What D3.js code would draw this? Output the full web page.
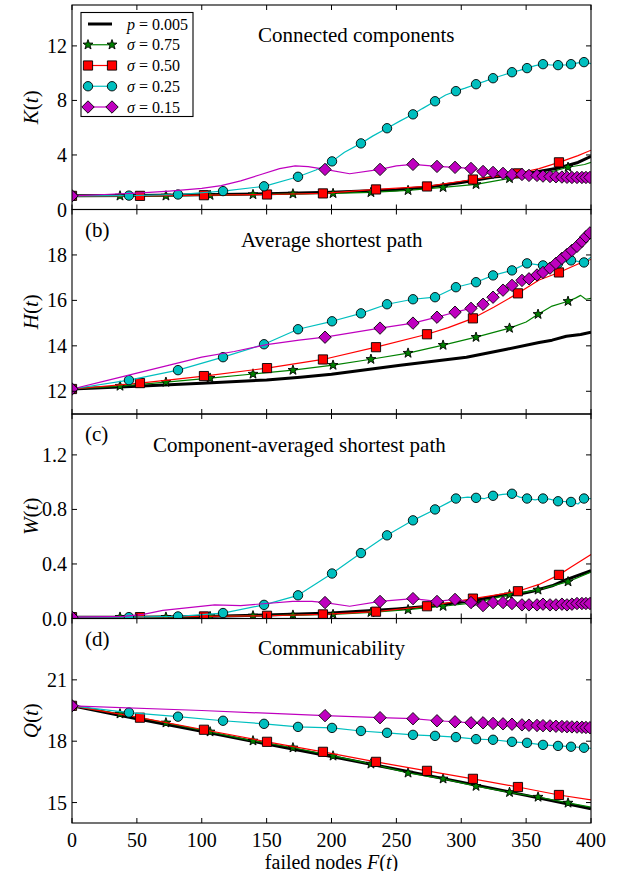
<!DOCTYPE html>
<html><head><meta charset="utf-8">
<script src="https://cdn.jsdelivr.net/npm/d3@7"></script>
<style>body{margin:0;background:#fff} text{font-family:"Liberation Serif","Times New Roman",serif;fill:#000}</style>
</head><body><svg id="c" width="629" height="871"></svg>
<script>
// ---------- data ----------
const xTicks = [0,50,100,150,200,250,300,350,400];
const seriesNames = ["p005","s075","s050","s025","s015"];
const legendLabels = [["p"," = 0.005"],["σ"," = 0.75"],["σ"," = 0.50"],["σ"," = 0.25"],["σ"," = 0.15"]];

// marker positions (failed nodes) per series
const F_s075 = [0,37,72.4,106.4,139.5,170.3,201.2,230.4,259,286,311.4,337.2,359.2,382.3];
const F_s050 = [0,52.4,101.7,150.3,193.4,234.3,273.6,309,343.7,375.3];
const F_s025 = [0,43.9,81.7,116.4,148,174.2,200.4,222.7,242.8,262.8,279.8,295.9,311.4,324.5,339.1,350.7,363,374.6,384.6,394.6];
const F_s015 = [0,195,237.4,262.8,281.3,295.2,307.5,316.8,324.5,332.2,339.1,346.8,352.2,358.4,363,368.4,373,377.6,381.5,385.3,389.2,393,396.1,399.2];

// (a) connected components K(t)
const K_p005 = [[0,1.0],[50,1.02],[100,1.08],[150,1.15],[200,1.27],[250,1.45],[275,1.65],[300,1.98],[325,2.38],[350,2.62],[375,3.05],[390,3.45],[400,3.9]];
const K_s075 = [1.0,1.0,1.0,1.05,1.1,1.15,1.18,1.25,1.4,1.62,1.84,2.28,2.5,3.1];
const K_s075_x = [[395,3.3],[400,3.46]];
const K_s050 = [1.0,1.0,1.05,1.1,1.18,1.47,1.69,2.2,2.65,3.46];
const K_s050_x = [[325,2.4],[360,3.0],[390,3.95],[400,4.35]];
const K_s025 = [1.0,1.02,1.1,1.35,1.7,2.4,3.53,4.85,5.96,6.98,7.94,8.68,9.19,9.63,10.07,10.37,10.66,10.59,10.66,10.81];
const K_s025_x = [[188,2.9],[210,4.2],[232,5.4],[253,6.5],[270,7.4],[288,8.4],[303,8.9],[318,9.4],[332,9.85],[345,10.2],[357,10.55],[369,10.6],[380,10.6],[390,10.75],[400,10.7]];
const K_s015 = [1.0,2.94,2.94,3.31,3.16,3.09,3.01,2.79,2.72,2.65,2.57,2.57,2.5,2.5,2.45,2.42,2.4,2.38,2.36,2.35,2.35,2.35,2.35,2.35];
const K_s015_x = [[25,1.1],[50,1.2],[75,1.35],[100,1.55],[115,1.75],[130,2.1],[145,2.55],[160,3.0],[172,3.2],[182,3.15],[188,3.05],[214,2.62],[250,3.2]];

// (b) average shortest path H(t)
const H_p005 = [[0,12.1],[50,12.22],[100,12.35],[150,12.5],[176,12.62],[200,12.75],[253,13.15],[304,13.5],[335,13.85],[360,14.15],[370,14.25],[381,14.42],[392,14.5],[400,14.6]];
const H_s075 = [12.1,12.23,12.4,12.58,12.76,12.93,13.15,13.41,13.68,14.03,14.38,14.78,15.39,15.96];
const H_s075_x = [[350,15.05],[370,15.75],[388,16.1],[392,16.22],[396,16.05],[400,16.09]];
const H_s050 = [12.1,12.36,12.67,13.02,13.4,13.94,14.51,15.21,16.31,17.23];
const H_s050_x = [[290,14.8],[325,15.7],[360,16.9],[390,17.6],[400,17.8]];
const H_s025 = [12.1,12.49,12.93,13.5,14.07,14.73,15.08,15.43,15.83,16.05,16.14,16.58,16.8,17.1,17.32,17.63,17.54,17.63,17.76,17.67];
const H_s025_x = [[400,17.9]];
const H_s015 = [12.1,14.38,14.78,15.0,15.26,15.48,15.65,15.83,16.14,16.45,16.66,16.88,16.95,17.12,17.23,17.42,17.63,17.85,18.02,18.2,18.38,18.6,18.8,18.97];
const H_s015_x = [[25,12.45],[50,12.8],[75,13.15],[100,13.5],[125,13.75],[150,14.05],[175,14.25],[400,19.05]];

// (c) component-averaged shortest path W(t)
const W_p005 = [[0,0.01],[50,0.01],[100,0.015],[150,0.025],[200,0.04],[250,0.07],[275,0.09],[304,0.125],[320,0.15],[330,0.17],[345,0.18],[355,0.2],[370,0.24],[381,0.285],[400,0.35]];
const W_s075 = [0.01,0.01,0.01,0.015,0.02,0.025,0.03,0.045,0.065,0.09,0.117,0.175,0.21,0.27];
const W_s075_x = [[400,0.34]];
const W_s050 = [0.01,0.01,0.015,0.02,0.03,0.05,0.09,0.146,0.2,0.32];
const W_s050_x = [[325,0.17],[360,0.25],[385,0.38],[400,0.47]];
const W_s025 = [0.01,0.01,0.015,0.04,0.1,0.17,0.33,0.48,0.61,0.72,0.80,0.88,0.885,0.9,0.915,0.88,0.88,0.86,0.855,0.88];
const W_s025_x = [[290,0.85],[305,0.89],[318,0.88],[332,0.91],[345,0.89],[357,0.87],[368,0.875],[390,0.84],[400,0.88]];
const W_s015 = [0.01,0.117,0.125,0.146,0.125,0.14,0.117,0.095,0.117,0.117,0.11,0.1,0.1,0.1,0.105,0.1,0.1,0.105,0.1,0.105,0.11,0.11,0.11,0.11];
const W_s015_x = [[40,0.015],[55,0.03],[70,0.06],[90,0.08],[110,0.1],[130,0.095],[150,0.11],[170,0.125],[185,0.125],[214,0.09],[400,0.11]];

// (d) communicability Q(t)
const Q_p005 = [[0,19.73],[50,19.1],[100,18.48],[150,17.86],[200,17.25],[250,16.63],[300,16.0],[350,15.35],[400,14.7]];
const Q_s075 = [19.73,19.34,18.9,18.46,18.02,17.68,17.28,16.89,16.45,16.16,15.8,15.5,15.27,14.98];
const Q_s075_x = [[400,14.78]];
const Q_s050 = [19.73,19.15,18.56,17.97,17.48,16.99,16.55,16.16,15.76,15.37];
const Q_s050_x = [[400,15.13]];
const Q_s025 = [19.73,19.4,19.2,19.0,18.85,18.7,18.65,18.5,18.41,18.31,18.26,18.2,18.1,18.07,17.97,17.92,17.82,17.77,17.73,17.68];
const Q_s025_x = [[400,17.65]];
const Q_s015 = [19.73,19.25,19.15,19.1,19.0,18.95,18.9,18.9,18.87,18.85,18.83,18.8,18.78,18.77,18.76,18.75,18.73,18.72,18.71,18.7,18.69,18.68,18.67,18.66];
const Q_s015_x = [[100,19.5],[400,18.66]];

// ---------- layout & styles ----------
const L = 72, R = 591, T0 = 5, PH = 204.5;
const FONT = 20, TFONT = 21;
const styles = {
  p005: {color:"#000000", width:3, marker:null},
  s075: {color:"#008000", width:1.2, marker:"star", fill:"#008000"},
  s050: {color:"#ff0000", width:1.2, marker:"square", fill:"#ff0000"},
  s025: {color:"#00bfbf", width:1.2, marker:"circle", fill:"#00bfbf"},
  s015: {color:"#bf00bf", width:1.2, marker:"diamond", fill:"#bf00bf"}
};
const markF = {s075:F_s075, s050:F_s050, s025:F_s025, s015:F_s015};

function shapePath(kind){
  if(kind==="circle"){const r=4.7;return `M${r},0A${r},${r} 0 1,1 ${-r},0A${r},${r} 0 1,1 ${r},0Z`;}
  if(kind==="square"){const s=4.6;return `M${-s},${-s}H${s}V${s}H${-s}Z`;}
  if(kind==="diamond"){const s=6.2;return `M0,${-s}L${s},0L0,${s}L${-s},0Z`;}
  if(kind==="star"){const ro=5.2, ri=2.1;let p=[];for(let i=0;i<10;i++){const a=-Math.PI/2+i*Math.PI/5;const r=i%2?ri:ro;p.push([r*Math.cos(a),r*Math.sin(a)]);}
    return "M"+p.map(d=>d[0].toFixed(2)+","+d[1].toFixed(2)).join("L")+"Z";}
}

const panels = [
  {dom:[0,15], ticks:[0,4,8,12], fmt:d3.format("d"), ylab:"K", title:"Connected components", tx:258, ty:42, tag:null,
   black:K_p005, marks:{s075:K_s075,s050:K_s050,s025:K_s025,s015:K_s015}, extra:{s075:K_s075_x,s050:K_s050_x,s025:K_s025_x,s015:K_s015_x}},
  {dom:[11,20], ticks:[12,14,16,18], fmt:d3.format("d"), ylab:"H", title:"Average shortest path", tx:241, ty:247, tag:"(b)",
   black:H_p005, marks:{s075:H_s075,s050:H_s050,s025:H_s025,s015:H_s015}, extra:{s075:H_s075_x,s050:H_s050_x,s025:H_s025_x,s015:H_s015_x}},
  {dom:[0,1.5], ticks:[0,0.4,0.8,1.2], fmt:d3.format(".1f"), ylab:"W", title:"Component-averaged shortest path", tx:153, ty:452, tag:"(c)",
   black:W_p005, marks:{s075:W_s075,s050:W_s050,s025:W_s025,s015:W_s015}, extra:{s075:W_s075_x,s050:W_s050_x,s025:W_s025_x,s015:W_s015_x}},
  {dom:[14,24], ticks:[15,18,21], fmt:d3.format("d"), ylab:"Q", title:"Communicability", tx:258, ty:655, tag:"(d)",
   black:Q_p005, marks:{s075:Q_s075,s050:Q_s050,s025:Q_s025,s015:Q_s015}, extra:{s075:Q_s075_x,s050:Q_s050_x,s025:Q_s025_x,s015:Q_s015_x}}
];

const svg = d3.select("#c");
svg.append("rect").attr("width",629).attr("height",871).attr("fill","#fff");
const x = d3.scaleLinear().domain([0,400]).range([L,R]);
const defs = svg.append("defs");

panels.forEach((p,i)=>{
  const top = T0 + i*PH, bot = top + PH;
  const y = d3.scaleLinear().domain(p.dom).range([bot, top]);
  const cid = "clip"+i;
  defs.append("clipPath").attr("id",cid).append("rect").attr("x",L).attr("y",top).attr("width",R-L).attr("height",PH);
  const g = svg.append("g");
  const pg = g.append("g").attr("clip-path",`url(#${cid})`);
  const line = d3.line().x(d=>x(d[0])).y(d=>y(d[1]));

  pg.append("path").datum(p.black).attr("d",line).attr("fill","none")
    .attr("stroke",styles.p005.color).attr("stroke-width",styles.p005.width).attr("stroke-linejoin","round");

  ["s075","s050","s025","s015"].forEach(s=>{
    const st = styles[s];
    const mk = markF[s].map((f,k)=>[f,p.marks[s][k]]);
    const pts = mk.concat(p.extra[s]).sort((a,b)=>a[0]-b[0]);
    pg.append("path").datum(pts).attr("d",line).attr("fill","none")
      .attr("stroke",st.color).attr("stroke-width",st.width).attr("stroke-linejoin","round");
    pg.selectAll(null).data(mk).enter().append("path")
      .attr("d",shapePath(st.marker))
      .attr("transform",d=>`translate(${x(d[0])},${y(d[1])})`)
      .attr("fill",st.fill).attr("stroke","#000").attr("stroke-width",0.9);
  });

  g.append("rect").attr("x",L).attr("y",top).attr("width",R-L).attr("height",PH)
    .attr("fill","none").attr("stroke","#000").attr("stroke-width",1.1);

  const tl = 5;
  xTicks.forEach(t=>{
    g.append("line").attr("x1",x(t)).attr("x2",x(t)).attr("y1",bot).attr("y2",bot-tl).attr("stroke","#000");
    g.append("line").attr("x1",x(t)).attr("x2",x(t)).attr("y1",top).attr("y2",top+tl).attr("stroke","#000");
  });
  p.ticks.forEach(t=>{
    g.append("line").attr("x1",L).attr("x2",L+tl).attr("y1",y(t)).attr("y2",y(t)).attr("stroke","#000");
    g.append("line").attr("x1",R).attr("x2",R-tl).attr("y1",y(t)).attr("y2",y(t)).attr("stroke","#000");
    g.append("text").attr("x",L-5).attr("y",y(t)).attr("dy","0.35em").attr("text-anchor","end")
      .attr("font-size",FONT).text(p.fmt(t));
  });

  const yl = g.append("text").attr("transform",`translate(38,${(top+bot)/2}) rotate(-90)`)
    .attr("text-anchor","middle").attr("font-size",TFONT);
  yl.append("tspan").attr("font-style","italic").text(p.ylab);
  yl.append("tspan").text("(");
  yl.append("tspan").attr("font-style","italic").text("t");
  yl.append("tspan").text(")");

  g.append("text").attr("x",p.tx).attr("y",p.ty).attr("font-size",TFONT).text(p.title);
  if(p.tag) g.append("text").attr("x",85).attr("y",top+27).attr("font-size",TFONT).text(p.tag);

  if(i===panels.length-1){
    xTicks.forEach(t=>{
      g.append("text").attr("x",x(t)).attr("y",bot+23.5).attr("text-anchor","middle").attr("font-size",FONT).text(t);
    });
    const xl = g.append("text").attr("x",(L+R)/2).attr("y",bot+45.5).attr("text-anchor","middle").attr("font-size",20);
    xl.append("tspan").text("failed nodes ");
    xl.append("tspan").attr("font-style","italic").text("F");
    xl.append("tspan").text("(");
    xl.append("tspan").attr("font-style","italic").text("t");
    xl.append("tspan").text(")");
  }
});

// legend
const lg = svg.append("g");
lg.append("rect").attr("x",81).attr("y",12.5).attr("width",112).attr("height",104)
  .attr("fill","#fff").attr("stroke","#000").attr("stroke-width",1.1);
const rowY = d3.scalePoint().domain(seriesNames).range([24,107]);
seriesNames.forEach((s,k)=>{
  const st = styles[s], yy = rowY(s);
  lg.append("line").attr("x1",88).attr("x2",112).attr("y1",yy).attr("y2",yy)
    .attr("stroke",st.color).attr("stroke-width",st.width);
  if(st.marker){
    [88,112].forEach(xx=>lg.append("path").attr("d",shapePath(st.marker))
      .attr("transform",`translate(${xx},${yy})`).attr("fill",st.fill).attr("stroke","#000").attr("stroke-width",0.9));
  }
  const t = lg.append("text").attr("x",127).attr("y",yy).attr("dy","0.35em").attr("font-size",16);
  t.append("tspan").attr("font-style","italic").text(legendLabels[k][0]);
  t.append("tspan").text(legendLabels[k][1]);
});
</script>
</body></html>
